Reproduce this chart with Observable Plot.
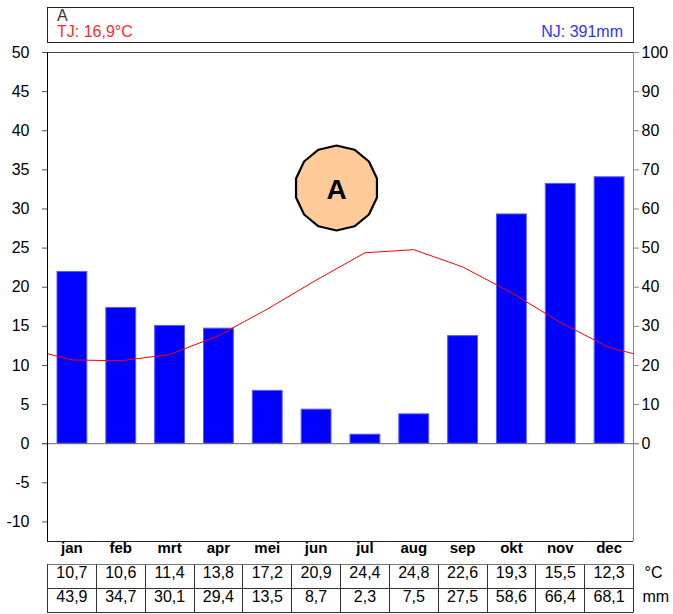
<!DOCTYPE html>
<html><head><meta charset="utf-8">
<script src="https://cdn.jsdelivr.net/npm/d3@7"></script>
<script src="https://cdn.jsdelivr.net/npm/@observablehq/plot@0.6"></script>
<style>body{margin:0;background:#fff} svg{display:block}</style>
</head><body><div id="chart"></div>
<script>
const months = ["jan","feb","mrt","apr","mei","jun","jul","aug","sep","okt","nov","dec"];
const temperature = [10.7,10.6,11.4,13.8,17.2,20.9,24.4,24.8,22.6,19.3,15.5,12.3];
const precipitation = [43.9,34.7,30.1,29.4,13.5,8.7,2.3,7.5,27.5,58.6,66.4,68.1];
const tempTicks = [-10,-5,0,5,10,15,20,25,30,35,40,45,50];
const precipTicks = [0,10,20,30,40,50,60,70,80,90,100];
const stationLabel = "A";
const annualTemp = "TJ: 16,9°C";
const annualPrecip = "NJ: 391mm";
const fmt = v => v.toFixed(1).replace(".", ",");

const edgeT = (temperature[0] + temperature[11]) / 2;
const tempLine = [{x: 0, t: edgeT}, ...temperature.map((t, i) => ({x: i + 0.5, t})), {x: 12, t: edgeT}];

const font = "'Liberation Sans', Arial, Helvetica, sans-serif";
const plot = Plot.plot({
  width: 673, height: 614,
  marginTop: 52, marginBottom: 73, marginLeft: 47, marginRight: 40,
  style: {fontFamily: font, fontSize: "16px", color: "#000", background: "#fff", overflow: "visible"},
  x: {type: "linear", domain: [0, 12], axis: null},
  y: {domain: [-12.5, 50], axis: null},
  marks: [
    Plot.rectY(precipitation, {x1: (d, i) => i, x2: (d, i) => i + 1, y1: 0, y2: d => d / 2,
      fill: "#0000ff", stroke: "#5a5aff", strokeWidth: 1, insetLeft: 10, insetRight: 9}),
    Plot.ruleY([0], {stroke: "#666", insetLeft: -5, insetRight: -5}),
    Plot.lineY(tempLine, {x: "x", y: "t", stroke: "#ff0000", strokeWidth: 1}),
    Plot.ruleY([50], {stroke: "#444", insetLeft: -5}),
    Plot.ruleY([-12.5], {stroke: "#222"}),
    Plot.ruleX([0], {stroke: "#000"}),
    Plot.ruleX([12], {stroke: "#888"}),
    Plot.axisY(tempTicks, {anchor: "left", label: null, tickSize: 5, tickPadding: 13, fontSize: 16, stroke: "#555", fill: "#000", tickFormat: d => String(d)}),
    Plot.axisY(precipTicks.map(v => v / 2), {anchor: "right", label: null, tickSize: 5, tickPadding: 3, fontSize: 16, stroke: "#888", fill: "#000", tickFormat: d => String(d * 2)}),
    Plot.text(months, {x: (d, i) => i + 0.5, frameAnchor: "bottom", dy: 11, fontWeight: "bold", fontSize: 15, fill: "#000"}),
    Plot.text(temperature, {x: (d, i) => i + 0.5, text: fmt, frameAnchor: "bottom", dy: 36, fontSize: 16, fill: "#000"}),
    Plot.text(precipitation, {x: (d, i) => i + 0.5, text: fmt, frameAnchor: "bottom", dy: 60, fontSize: 16, fill: "#000"}),
    Plot.text(["°C"], {frameAnchor: "bottom-right", dx: 11, dy: 36, textAnchor: "start", fontSize: 16, fill: "#000"}),
    Plot.text(["mm"], {frameAnchor: "bottom-right", dx: 9, dy: 60, textAnchor: "start", fontSize: 16, fill: "#000"})
  ]
});
document.getElementById("chart").appendChild(plot);

const svg = d3.select(plot);
const x = plot.scale("x");
const X = v => x.apply(v);
const x0 = X(0), x1 = X(12);

// table grid
const tTop = 564.5, tMid = 588.5, tBot = 612.5;
const g = svg.append("g").attr("stroke", "#333").attr("fill", "none").attr("stroke-width", 1);
g.append("line").attr("x1", x0).attr("x2", x1).attr("y1", tTop).attr("y2", tTop).attr("stroke", "#777");
g.append("line").attr("x1", x0).attr("x2", x1).attr("y1", tMid).attr("y2", tMid);
g.append("line").attr("x1", x0).attr("x2", x1).attr("y1", tBot).attr("y2", tBot);
d3.range(0, 13).forEach(i => {
  const xi = Math.round(X(i)) + 0.5;
  g.append("line").attr("x1", xi).attr("x2", xi).attr("y1", tTop).attr("y2", tBot);
});

// top info box
const box = svg.append("g").style("font-family", font).attr("text-anchor", "start");
box.append("rect").attr("x", x0 + 0.5).attr("y", 7.5).attr("width", x1 - x0).attr("height", 35)
  .attr("fill", "none").attr("stroke", "#222");
box.append("text").attr("x", 57).attr("y", 20.5).attr("font-size", 16).attr("fill", "#333").attr("text-anchor", "start").text(stationLabel);
box.append("text").attr("x", 57).attr("y", 37).attr("font-size", 16).attr("fill", "#ff2a2a").attr("text-anchor", "start").text(annualTemp);
box.append("text").attr("x", 623).attr("y", 37).attr("font-size", 16).attr("fill", "#3333ff").attr("text-anchor", "end").text(annualPrecip);

// climate-type badge
const badge = svg.append("g").attr("transform", "translate(336.5,188)");
const n = 14;
const pts = d3.range(n).map(k => {
  const a = -Math.PI / 2 + k * 2 * Math.PI / n;
  return [41.5 * Math.cos(a), 42.5 * Math.sin(a)];
});
badge.append("polygon").attr("points", pts.map(p => p.join(",")).join(" "))
  .attr("fill", "#ffcc99").attr("stroke", "#000").attr("stroke-width", 2.2).attr("stroke-linejoin", "round");
badge.append("text").attr("y", 11).attr("text-anchor", "middle").attr("font-size", 28)
  .attr("font-weight", "bold").style("font-family", font).attr("fill", "#000").text(stationLabel);
</script>
</body></html>
